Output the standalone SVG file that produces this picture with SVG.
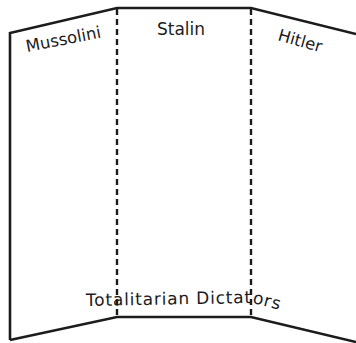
<svg xmlns="http://www.w3.org/2000/svg" width="356" height="343" viewBox="0 0 356 343">
  <style>
    .edge { fill: none; stroke: #1c1c1c; stroke-width: 2.6; stroke-linejoin: miter; stroke-linecap: butt; }
    .fold { fill: none; stroke: #1c1c1c; stroke-width: 2.4; stroke-dasharray: 6 4; }
    .lbl { font-family: "DejaVu Sans", "Liberation Sans", sans-serif; font-size: 16.5px; fill: #1c1c1c; }
  </style>
  <defs>
    <path id="bottomText" d="M 86 306 L 253 303 L 295 314"/>
  </defs>
  <rect width="356" height="343" fill="#ffffff"/>
  <g id="board">
    <path class="edge" d="M 10 340 L 10 33 L 117 8 L 251 8 L 356 34"/>
    <path class="edge" d="M 10 340 L 117 317 L 251 317 L 356 342"/>
  </g>
  <g id="folds">
    <line class="fold" x1="117" y1="9" x2="117" y2="316"/>
    <line class="fold" x1="251" y1="9" x2="251" y2="316"/>
  </g>
  <g id="mussolini">
    <text class="lbl" x="27" y="52" transform="rotate(-11 27 52)">Mussolini</text>
  </g>
  <g id="stalin">
    <text class="lbl" x="157" y="35" style="font-size:17px">Stalin</text>
  </g>
  <g id="hitler">
    <text class="lbl" x="277" y="40" transform="rotate(16 277 40)">Hitler</text>
  </g>
  <g id="title">
    <text class="lbl" style="font-size:17px; letter-spacing:0.8px"><textPath href="#bottomText">Totalitarian Dictators</textPath></text>
  </g>
</svg>
